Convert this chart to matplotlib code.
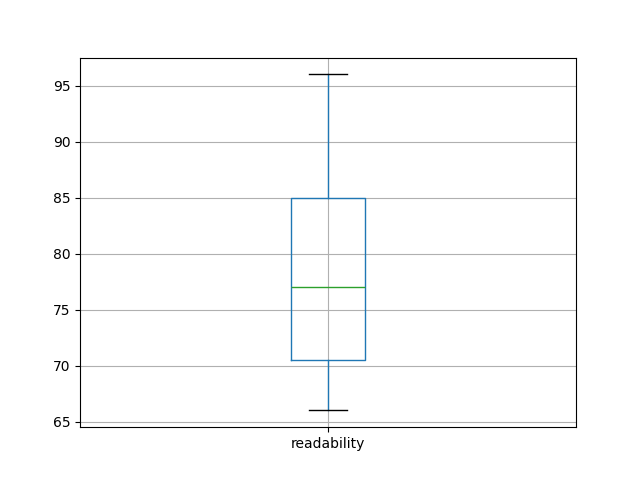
import matplotlib
matplotlib.use("Agg")
import matplotlib.pyplot as plt

labels = ["readability"]
whislo = [66]
q1 = [70.5]
med = [77]
q3 = [85]
whishi = [96]

stats = []
for i, lab in enumerate(labels):
    stats.append({"label": lab, "whislo": whislo[i], "q1": q1[i], "med": med[i],
                  "q3": q3[i], "whishi": whishi[i], "fliers": []})

fig, ax = plt.subplots(figsize=(6.4, 4.8), dpi=100)
ax.bxp(stats,
       boxprops=dict(color="#1f77b4"),
       whiskerprops=dict(color="#1f77b4"),
       medianprops=dict(color="#2ca02c"),
       capprops=dict(color="k"))
ax.grid(True)
plt.savefig("out.png")
